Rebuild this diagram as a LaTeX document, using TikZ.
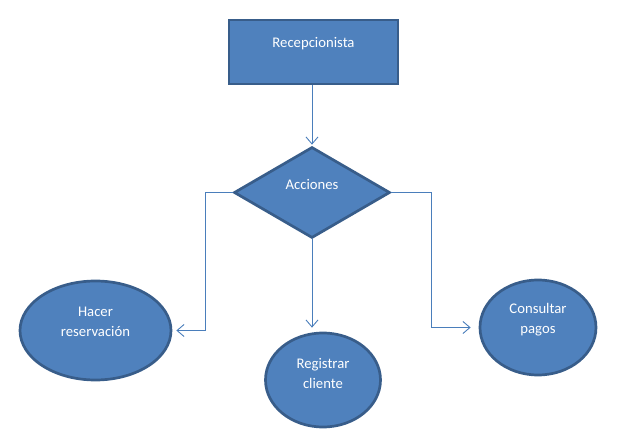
\documentclass[tikz,border=0pt]{standalone}
\usepackage{fontspec}
\setmainfont{Carlito}
\usepackage{tikz}
\usetikzlibrary{calc, positioning, arrows.meta, shapes.geometric}
\usepackage{xcolor}
\definecolor{boxFill}{RGB}{79, 129, 189}
\definecolor{boxLine}{RGB}{56, 93, 138}
\definecolor{linkLine}{RGB}{74, 126, 187}

\begin{document}
\begin{tikzpicture}[x=1pt, y=-1pt,
    shapebox/.style={draw=boxLine, fill=boxFill, line width=2.7pt, inner sep=0pt},
    caption/.style={text=white, align=center, font=\fontsize{14.7}{20}\selectfont},
    link/.style={draw=linkLine, line width=0.9pt, -{Straight Barb[length=7pt, width=12pt]},
                 shorten >=4pt}]
  \useasboundingbox (0, 0) rectangle (633, 442);

  % Actor
  \node[shapebox, rectangle, minimum width=169pt, minimum height=64pt] (rec) at (313.5, 52) {};
  \node[caption] (rectxt) at (313.5, 44) {Recepcionista};

  % Decision
  \node[shapebox, diamond, minimum width=156pt, minimum height=91pt] (acc) at (312, 192.5) {};
  \node[caption] (acctxt) at (312, 184) {Acciones};

  % Actions
  \node[shapebox, ellipse, minimum width=151pt, minimum height=99pt] (hacer) at (95.5, 330.5) {};
  \node[caption] (hacertxt) at (95.5, 322) {Hacer\\reservación};

  \node[shapebox, ellipse, minimum width=115pt, minimum height=94pt] (reg) at (323, 380) {};
  \node[caption] (regtxt) at (323, 373) {Registrar\\cliente};

  \node[shapebox, ellipse, minimum width=116pt, minimum height=95pt] (pagos) at (538, 327.5) {};
  \node[caption] (pagostxt) at (538, 320) {Consultar\\pagos};

  % Corners of the side links
  \coordinate (lturn) at (205, 192.5);
  \coordinate (rturn) at (431, 192.5);

  % Links
  \draw[link, shorten >=1pt] (rec.south -| acc.north) -- (acc.north);
  \draw[link] (acc.west) -- (lturn) |- (hacer.east);
  \draw[link] (acc.south) -- (acc.south |- reg.north);
  \draw[link, shorten >=8pt] (acc.east) -- (rturn) |- (pagos.west);
\end{tikzpicture}
\end{document}
